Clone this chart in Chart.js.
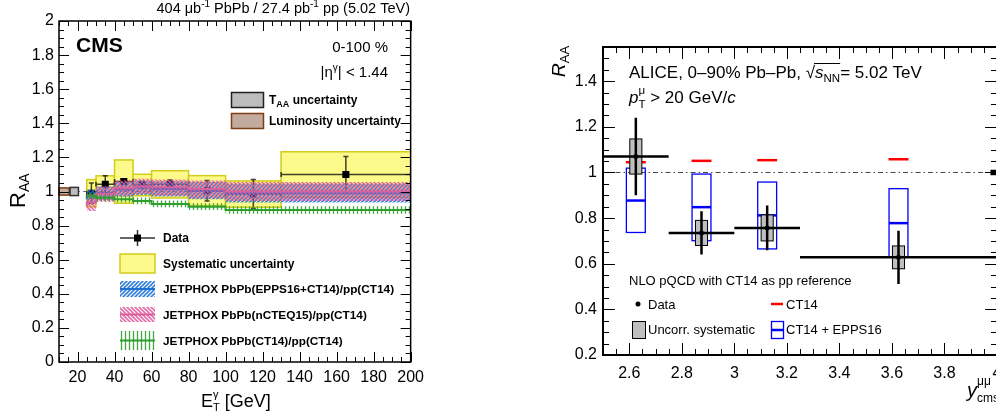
<!DOCTYPE html>
<html>
<head>
<meta charset="utf-8">
<script src="https://cdn.jsdelivr.net/npm/chart.js@4.4.0/dist/chart.umd.min.js"></script>
<style>
  html, body { margin: 0; padding: 0; background: #fff; overflow: hidden; width: 996px; height: 419px; }
  #cms { position: absolute; left: 0; top: 0; }
  #alice { position: absolute; left: 520px; top: 0; }
</style>
</head>
<body>
<canvas id="cms" width="430" height="419"></canvas>
<canvas id="alice" width="500" height="419"></canvas>
<script>
// ---- CMS: isolated photon R_AA vs E_T ----
var etEdges = [25, 30, 40, 50, 60, 80, 100, 130, 200];
var etCenters = [27.5, 35, 45, 55, 70, 90, 115, 165];
var raaCms = [0.99, 1.042, 1.058, 1.038, 1.042, 1.005, 0.985, 1.10];
var statCms = [0.06, 0.05, 0.015, 0.02, 0.025, 0.06, 0.085, 0.105];
var systCms = [0.08, 0.05, 0.127, 0.063, 0.08, 0.088, 0.077, 0.133];

var eppsMid = [0.955, 0.97, 0.99, 1.012, 1.024, 1.015, 1.005, 0.99];
var eppsLo = [0.915, 0.93, 0.95, 0.97, 0.98, 0.97, 0.955, 0.935];
var eppsHi = [0.995, 1.01, 1.03, 1.055, 1.065, 1.06, 1.055, 1.045];
var ncteqMid = [0.91, 0.935, 0.985, 1.02, 1.03, 1.025, 1.015, 1.0];
var ncteqLo = [0.835, 0.885, 0.94, 0.975, 0.985, 0.975, 0.96, 0.945];
var ncteqHi = [0.985, 0.985, 1.03, 1.065, 1.075, 1.07, 1.065, 1.055];
var ct14Mid = [0.97, 0.975, 0.963, 0.955, 0.945, 0.927, 0.911, 0.891];
var ct14Lo = [0.95, 0.955, 0.943, 0.935, 0.925, 0.907, 0.891, 0.869];
var ct14Hi = [0.99, 0.995, 0.983, 0.975, 0.965, 0.947, 0.931, 0.913];

var lumiRange = [10, 15.5];
var lumiUnc = 0.021;
var taaRange = [16, 20.5];
var taaUnc = 0.024;

var etTicks = [20, 40, 60, 80, 100, 120, 140, 160, 180, 200];
var raaTicksCms = [0, 0.2, 0.4, 0.6, 0.8, 1, 1.2, 1.4, 1.6, 1.8, 2];

// ---- ALICE: Z -> mu mu R_AA vs rapidity ----
var yEdges = [2.5, 2.75, 3.0, 3.25, 4.0];
var yCenters = [2.625, 2.875, 3.125, 3.625];
var raaAlice = [1.07, 0.735, 0.757, 0.628];
var statAlice = [0.17, 0.095, 0.098, 0.117];
var systAlice = [0.077, 0.055, 0.057, 0.05];
var ct14Alice = [1.045, 1.051, 1.054, 1.058];
var eppsAliceMid = [0.877, 0.848, 0.812, 0.778];
var eppsAliceHi = [1.019, 0.993, 0.958, 0.929];
var eppsAliceLo = [0.737, 0.701, 0.665, 0.63];
var globalUnc = 0.012;

var rapTicks = [2.6, 2.8, 3.0, 3.2, 3.4, 3.6, 3.8, 4.0];
var raaTicksAlice = [0.2, 0.4, 0.6, 0.8, 1, 1.2, 1.4];

var FONT = '"Liberation Sans", Arial, Helvetica, sans-serif';

function fontOf(p) {
  return (p.i ? 'italic ' : '') + (p.b ? 'bold ' : '') + p.s + 'px ' + FONT;
}
function partWidth(ctx, p) {
  if (p.stack) return Math.max.apply(null, p.stack.map(function (q) { return partWidth(ctx, q); }));
  ctx.font = fontOf(p);
  return ctx.measureText(p.t).width;
}
// draws a run of text pieces (with sub/superscripts) and returns the end x
function drawRich(ctx, x, y, parts, align) {
  var total = 0;
  parts.forEach(function (p) { total += partWidth(ctx, p); });
  if (align === 'right') x -= total;
  else if (align === 'center') x -= total / 2;
  ctx.textAlign = 'left';
  ctx.textBaseline = 'alphabetic';
  parts.forEach(function (p) {
    (p.stack || [p]).forEach(function (q) {
      ctx.font = fontOf(q);
      ctx.fillText(q.t, x, y + (q.dy || 0));
    });
    x += partWidth(ctx, p);
  });
  return x;
}

function clipArea(ctx, a) {
  ctx.beginPath();
  ctx.rect(a.left, a.top, a.right - a.left, a.bottom - a.top);
  ctx.clip();
}

// frame with inward ticks on all four sides
function drawFrame(chart, xMinorStep, yMinorStep, majLen, minLen, lw) {
  var ctx = chart.ctx, a = chart.chartArea, xs = chart.scales.x, ys = chart.scales.y;
  ctx.save();
  ctx.strokeStyle = '#000';
  ctx.lineWidth = lw;
  ctx.strokeRect(a.left, a.top, a.right - a.left, a.bottom - a.top);
  ctx.lineWidth = 1;
  ctx.beginPath();
  var first = Math.ceil(xs.min / xMinorStep - 1e-6);
  for (var k = first; k * xMinorStep <= xs.max + 1e-9; k++) {
    var v = k * xMinorStep;
    var isMaj = xs.ticks.some(function (t) { return Math.abs(t.value - v) < 1e-6; });
    var len = isMaj ? majLen : minLen;
    var px = Math.round(xs.getPixelForValue(v)) + 0.5;
    ctx.moveTo(px, a.bottom); ctx.lineTo(px, a.bottom - len);
    ctx.moveTo(px, a.top); ctx.lineTo(px, a.top + len);
  }
  first = Math.ceil(ys.min / yMinorStep - 1e-6);
  for (k = first; k * yMinorStep <= ys.max + 1e-9; k++) {
    v = k * yMinorStep;
    isMaj = ys.ticks.some(function (t) { return Math.abs(t.value - v) < 1e-6; });
    len = isMaj ? majLen : minLen;
    var py = Math.round(ys.getPixelForValue(v)) + 0.5;
    ctx.moveTo(a.left, py); ctx.lineTo(a.left + len, py);
    ctx.moveTo(a.right, py); ctx.lineTo(a.right - len, py);
  }
  ctx.stroke();
  ctx.restore();
}

function makeHatch(ctx, color, kind) {
  var tile = document.createElement('canvas');
  tile.width = 4; tile.height = 4;
  var g = tile.getContext('2d');
  g.strokeStyle = color;
  g.lineWidth = 1.6;
  g.beginPath();
  if (kind === 'up') {
    g.moveTo(-1, 5); g.lineTo(5, -1);
    g.moveTo(-1, 1); g.lineTo(1, -1);
    g.moveTo(3, 5); g.lineTo(5, 3);
  } else if (kind === 'down') {
    g.moveTo(-1, -1); g.lineTo(5, 5);
    g.moveTo(3, -1); g.lineTo(5, 1);
    g.moveTo(-1, 3); g.lineTo(1, 5);
  } else {
    g.lineWidth = 1.3;
    g.moveTo(1.5, 0); g.lineTo(1.5, 4);
  }
  g.stroke();
  return ctx.createPattern(tile, 'repeat');
}

var tickFont = { family: FONT, size: 16 };
var oneDigit = function (v) { return String(Math.round(v * 100) / 100); };

// ---------------- CMS panel ----------------
var cmsCanvas = document.getElementById('cms');
var cctx = cmsCanvas.getContext('2d');
var blueHatch = makeHatch(cctx, 'rgba(30,115,215,0.9)', 'up');
var pinkHatch = makeHatch(cctx, 'rgba(225,85,155,0.85)', 'down');
var greenHatch = makeHatch(cctx, 'rgba(45,160,45,0.9)', 'vert');
var BLUE = '#1f6fd0', PINK = '#d9619a', GREEN = '#2e9e2e';
var YELLOW = '#fdfa8c', YELLOW_EDGE = '#d2cc1a';

function stepPoints(vals) {
  return etEdges.map(function (e, i) { return { x: e, y: vals[Math.min(i, vals.length - 1)] }; });
}
function bandSets(lo, mid, hi, pattern, color, ord) {
  return [
    { type: 'line', data: stepPoints(hi), stepped: 'after', borderColor: 'rgba(0,0,0,0)', borderWidth: 0,
      pointRadius: 0, fill: '+1', backgroundColor: pattern, order: ord + 1 },
    { type: 'line', data: stepPoints(lo), stepped: 'after', borderColor: 'rgba(0,0,0,0)', borderWidth: 0,
      pointRadius: 0, fill: false, order: ord + 1 },
    { type: 'line', data: stepPoints(mid), stepped: 'after', borderColor: color, borderWidth: 2,
      pointRadius: 0, fill: false, order: ord }
  ];
}

var cmsDecor = {
  id: 'cmsDecor',
  beforeDatasetsDraw: function (chart) {
    var ctx = chart.ctx, xs = chart.scales.x, ys = chart.scales.y, a = chart.chartArea;
    ctx.save();
    clipArea(ctx, a);
    // systematic uncertainty boxes
    etCenters.forEach(function (c, i) {
      var x0 = xs.getPixelForValue(etEdges[i]), x1 = xs.getPixelForValue(etEdges[i + 1]);
      var y0 = ys.getPixelForValue(raaCms[i] + systCms[i]), y1 = ys.getPixelForValue(raaCms[i] - systCms[i]);
      ctx.fillStyle = YELLOW;
      ctx.fillRect(x0, y0, x1 - x0, y1 - y0);
      ctx.strokeStyle = YELLOW_EDGE;
      ctx.lineWidth = 1.5;
      ctx.strokeRect(x0, y0, x1 - x0, y1 - y0);
    });
    // unity
    var y1p = ys.getPixelForValue(1);
    ctx.setLineDash([3, 3]);
    ctx.strokeStyle = 'rgba(0,0,0,0.55)';
    ctx.lineWidth = 1;
    ctx.beginPath(); ctx.moveTo(a.left, y1p); ctx.lineTo(a.right, y1p); ctx.stroke();
    ctx.setLineDash([]);
    // statistical errors and bin widths
    ctx.strokeStyle = 'rgba(0,0,0,0.75)';
    ctx.lineWidth = 1.5;
    etCenters.forEach(function (c, i) {
      var px = xs.getPixelForValue(c), py = ys.getPixelForValue(raaCms[i]);
      var x0 = xs.getPixelForValue(etEdges[i]), x1 = xs.getPixelForValue(etEdges[i + 1]);
      var yt = ys.getPixelForValue(raaCms[i] + statCms[i]), yb = ys.getPixelForValue(raaCms[i] - statCms[i]);
      ctx.beginPath();
      ctx.moveTo(x0, py); ctx.lineTo(x1, py);
      ctx.moveTo(x0, py - 2.5); ctx.lineTo(x0, py + 2.5);
      ctx.moveTo(x1, py - 2.5); ctx.lineTo(x1, py + 2.5);
      ctx.moveTo(px, yt); ctx.lineTo(px, yb);
      ctx.moveTo(px - 2.5, yt); ctx.lineTo(px + 2.5, yt);
      ctx.moveTo(px - 2.5, yb); ctx.lineTo(px + 2.5, yb);
      ctx.stroke();
    });
    ctx.restore();
  },
  afterDatasetsDraw: function (chart) {
    var ctx = chart.ctx, xs = chart.scales.x, ys = chart.scales.y;
    ctx.save();
    // normalisation boxes at unity
    function normBox(range, unc, fill, edge) {
      var x0 = xs.getPixelForValue(range[0]), x1 = xs.getPixelForValue(range[1]);
      var y0 = ys.getPixelForValue(1 + unc), y1 = ys.getPixelForValue(1 - unc);
      ctx.fillStyle = fill; ctx.fillRect(x0, y0, x1 - x0, y1 - y0);
      ctx.strokeStyle = edge; ctx.lineWidth = 1.5; ctx.strokeRect(x0, y0, x1 - x0, y1 - y0);
    }
    normBox(lumiRange, lumiUnc, '#c4aba0', '#7b3f12');
    normBox(taaRange, taaUnc, '#bdbdbd', '#333');
    ctx.restore();

    drawFrame(chart, 5, 0.05, 10, 5, 1.5);

    ctx.save();
    ctx.fillStyle = '#000';
    // header and labels
    drawRich(ctx, 410, 13, [
      { t: '404 \u03bcb', s: 14.5 }, { t: '-1', s: 10, dy: -6 }, { t: ' PbPb / 27.4 pb', s: 14.5 },
      { t: '-1', s: 10, dy: -6 }, { t: ' pp (5.02 TeV)', s: 14.5 }
    ], 'right');
    drawRich(ctx, 76, 52, [{ t: 'CMS', s: 21, b: true }]);
    drawRich(ctx, 388, 52, [{ t: '0-100 %', s: 15 }], 'right');
    drawRich(ctx, 388, 77, [
      { t: '|\u03b7', s: 15 }, { t: '\u03b3', s: 10, dy: -6 }, { t: '| < 1.44', s: 15 }
    ], 'right');

    // axis titles
    drawRich(ctx, 201, 407, [
      { t: 'E', s: 18 },
      { stack: [{ t: '\u03b3', s: 11, dy: -9 }, { t: 'T', s: 11, dy: 4 }] },
      { t: ' [GeV]', s: 18 }
    ]);
    ctx.save();
    ctx.translate(25, 208);
    ctx.rotate(-Math.PI / 2);
    drawRich(ctx, 0, 0, [{ t: 'R', s: 22 }, { t: 'AA', s: 14, dy: 4 }]);
    ctx.restore();

    // upper legend
    function legBox(x, y, w, h, fill, edge) {
      ctx.fillStyle = fill; ctx.fillRect(x, y, w, h);
      ctx.strokeStyle = edge; ctx.lineWidth = 1.5; ctx.strokeRect(x, y, w, h);
    }
    legBox(231.5, 92.5, 32, 15, '#bdbdbd', '#222');
    legBox(231.5, 113.5, 32, 15, '#c4aba0', '#7b3f12');
    ctx.fillStyle = '#000';
    drawRich(ctx, 269, 104, [{ t: 'T', s: 12, b: true }, { t: 'AA', s: 9, b: true, dy: 3 }, { t: ' uncertainty', s: 12, b: true }]);
    drawRich(ctx, 269, 125, [{ t: 'Luminosity uncertainty', s: 12, b: true }]);

    // lower legend
    var lx0 = 120, lx1 = 155, lxm = 137.5;
    ctx.strokeStyle = 'rgba(0,0,0,0.8)';
    ctx.lineWidth = 1.5;
    ctx.beginPath();
    ctx.moveTo(lx0, 238); ctx.lineTo(lx1, 238);
    ctx.moveTo(lxm, 230); ctx.lineTo(lxm, 246);
    ctx.stroke();
    ctx.fillStyle = '#000';
    ctx.fillRect(lxm - 3.5, 234.5, 7, 7);
    legBox(lx0, 254, 35, 19, YELLOW, YELLOW_EDGE);
    [[281, 297, blueHatch, BLUE], [307, 322, pinkHatch, PINK], [331, 350, greenHatch, GREEN]].forEach(function (r) {
      ctx.fillStyle = r[2];
      ctx.fillRect(lx0, r[0], lx1 - lx0, r[1] - r[0]);
      ctx.strokeStyle = r[3];
      ctx.lineWidth = 2;
      ctx.beginPath();
      ctx.moveTo(lx0, (r[0] + r[1]) / 2); ctx.lineTo(lx1, (r[0] + r[1]) / 2);
      ctx.stroke();
    });
    ctx.fillStyle = '#000';
    drawRich(ctx, 163, 242, [{ t: 'Data', s: 12, b: true }]);
    drawRich(ctx, 163, 268, [{ t: 'Systematic uncertainty', s: 12, b: true }]);
    drawRich(ctx, 163, 293, [{ t: 'JETPHOX PbPb(EPPS16+CT14)/pp(CT14)', s: 11.8, b: true }]);
    drawRich(ctx, 163, 319, [{ t: 'JETPHOX PbPb(nCTEQ15)/pp(CT14)', s: 11.8, b: true }]);
    drawRich(ctx, 163, 345, [{ t: 'JETPHOX PbPb(CT14)/pp(CT14)', s: 11.8, b: true }]);
    ctx.restore();
  }
};

new Chart(cmsCanvas, {
  type: 'scatter',
  data: {
    datasets: [
      { type: 'scatter', data: etCenters.map(function (x, i) { return { x: x, y: raaCms[i] }; }),
        pointStyle: 'rect', pointRadius: 5, backgroundColor: '#000', borderColor: '#000', borderWidth: 0, order: 10 }
    ].concat(
      bandSets(eppsLo, eppsMid, eppsHi, blueHatch, BLUE, 4),
      bandSets(ncteqLo, ncteqMid, ncteqHi, pinkHatch, PINK, 2),
      bandSets(ct14Lo, ct14Mid, ct14Hi, greenHatch, GREEN, 0)
    )
  },
  options: {
    responsive: false,
    devicePixelRatio: 1,
    animation: false,
    events: [],
    layout: { padding: { left: 0, right: 18, top: 21, bottom: 0 } },
    plugins: { legend: { display: false }, tooltip: { enabled: false } },
    scales: {
      x: {
        type: 'linear', min: 10, max: 200,
        grid: { display: false, drawTicks: false }, border: { display: false },
        ticks: { font: tickFont, color: '#000', padding: 6, maxRotation: 0, callback: oneDigit },
        afterBuildTicks: function (s) { s.ticks = etTicks.map(function (v) { return { value: v }; }); },
        afterFit: function (s) { s.height = 57; }
      },
      y: {
        type: 'linear', min: 0, max: 2,
        grid: { display: false, drawTicks: false }, border: { display: false },
        ticks: { font: tickFont, color: '#000', padding: 5, callback: oneDigit },
        afterBuildTicks: function (s) { s.ticks = raaTicksCms.map(function (v) { return { value: v }; }); },
        afterFit: function (s) { s.width = 59; }
      }
    }
  },
  plugins: [cmsDecor]
});

// ---------------- ALICE panel ----------------
var aliceCanvas = document.getElementById('alice');
var GRAY_BOX_HALF = 0.023, CT14_HALF = 0.038, EPPS_HALF = 0.036;

var aliceDecor = {
  id: 'aliceDecor',
  beforeDatasetsDraw: function (chart) {
    var ctx = chart.ctx, xs = chart.scales.x, ys = chart.scales.y, a = chart.chartArea;
    ctx.save();
    clipArea(ctx, a);
    // unity
    var y1p = ys.getPixelForValue(1);
    ctx.strokeStyle = '#444';
    ctx.lineWidth = 1;
    ctx.setLineDash([5, 3, 1.5, 3]);
    ctx.beginPath(); ctx.moveTo(a.left, y1p); ctx.lineTo(a.right, y1p); ctx.stroke();
    ctx.setLineDash([]);
    yCenters.forEach(function (c, i) {
      // CT14 + EPPS16 band
      var x0 = xs.getPixelForValue(c - EPPS_HALF), x1 = xs.getPixelForValue(c + EPPS_HALF);
      var yt = ys.getPixelForValue(eppsAliceHi[i]), yb = ys.getPixelForValue(eppsAliceLo[i]);
      ctx.strokeStyle = '#0000ff';
      ctx.lineWidth = 1.3;
      ctx.strokeRect(x0, yt, x1 - x0, yb - yt);
      ctx.lineWidth = 2.5;
      var ym = ys.getPixelForValue(eppsAliceMid[i]);
      ctx.beginPath(); ctx.moveTo(x0, ym); ctx.lineTo(x1, ym); ctx.stroke();
      // CT14
      ctx.strokeStyle = '#ff0000';
      var yc = ys.getPixelForValue(ct14Alice[i]);
      ctx.beginPath();
      ctx.moveTo(xs.getPixelForValue(c - CT14_HALF), yc); ctx.lineTo(xs.getPixelForValue(c + CT14_HALF), yc);
      ctx.stroke();
    });
    // uncorrelated systematics
    yCenters.forEach(function (c, i) {
      var x0 = xs.getPixelForValue(c - GRAY_BOX_HALF), x1 = xs.getPixelForValue(c + GRAY_BOX_HALF);
      var yt = ys.getPixelForValue(raaAlice[i] + systAlice[i]), yb = ys.getPixelForValue(raaAlice[i] - systAlice[i]);
      ctx.fillStyle = '#bfbfbf';
      ctx.fillRect(x0, yt, x1 - x0, yb - yt);
      ctx.strokeStyle = '#000';
      ctx.lineWidth = 1;
      ctx.strokeRect(x0, yt, x1 - x0, yb - yt);
    });
    // statistical errors and bin widths
    ctx.strokeStyle = '#000';
    ctx.lineWidth = 2.5;
    yCenters.forEach(function (c, i) {
      var px = xs.getPixelForValue(c), py = ys.getPixelForValue(raaAlice[i]);
      ctx.beginPath();
      ctx.moveTo(xs.getPixelForValue(yEdges[i]), py); ctx.lineTo(xs.getPixelForValue(yEdges[i + 1]), py);
      ctx.moveTo(px, ys.getPixelForValue(raaAlice[i] + statAlice[i]));
      ctx.lineTo(px, ys.getPixelForValue(raaAlice[i] - statAlice[i]));
      ctx.stroke();
    });
    ctx.restore();
  },
  afterDatasetsDraw: function (chart) {
    var ctx = chart.ctx, xs = chart.scales.x, ys = chart.scales.y;
    // global normalisation uncertainty at the right edge
    ctx.save();
    ctx.fillStyle = '#000';
    var gx0 = xs.getPixelForValue(xs.max - 0.025), gx1 = xs.getPixelForValue(xs.max);
    var gy0 = ys.getPixelForValue(1 + globalUnc), gy1 = ys.getPixelForValue(1 - globalUnc);
    ctx.fillRect(gx0, gy0, gx1 - gx0, gy1 - gy0);
    ctx.restore();

    drawFrame(chart, 0.05, 0.05, 12, 6, 2);

    ctx.save();
    ctx.fillStyle = '#000';
    // header text
    var ex = drawRich(ctx, 109, 78, [{ t: 'ALICE, 0\u201390% Pb\u2013Pb, ', s: 17 }]);
    ctx.font = '17px ' + FONT;
    ctx.fillText('\u221a', ex, 78);
    var rx = ex + ctx.measureText('\u221a').width;
    var ex2 = drawRich(ctx, rx, 78, [{ t: 's', s: 17, i: true }, { t: 'NN', s: 11.5, dy: 4 }]);
    ctx.strokeStyle = '#000';
    ctx.lineWidth = 1;
    ctx.beginPath(); ctx.moveTo(rx - 1, 63.5); ctx.lineTo(ex2, 63.5); ctx.stroke();
    drawRich(ctx, ex2, 78, [{ t: '= 5.02 TeV', s: 17 }]);
    drawRich(ctx, 109, 103, [
      { t: 'p', s: 17, i: true },
      { stack: [{ t: '\u03bc', s: 11.5, dy: -9 }, { t: 'T', s: 11.5, dy: 5 }] },
      { t: ' > 20 GeV/', s: 17 }, { t: 'c', s: 17, i: true }
    ]);

    // legend
    drawRich(ctx, 109, 285, [{ t: 'NLO pQCD with CT14 as pp reference', s: 13 }]);
    ctx.beginPath(); ctx.arc(118, 304, 2.5, 0, Math.PI * 2); ctx.fill();
    drawRich(ctx, 128, 309, [{ t: 'Data', s: 13 }]);
    ctx.fillStyle = '#bfbfbf';
    ctx.fillRect(112.5, 321.5, 13, 17);
    ctx.strokeStyle = '#000'; ctx.lineWidth = 1;
    ctx.strokeRect(112.5, 321.5, 13, 17);
    ctx.fillStyle = '#000';
    drawRich(ctx, 128, 334, [{ t: 'Uncorr. systematic', s: 13 }]);
    ctx.strokeStyle = '#ff0000'; ctx.lineWidth = 2.5;
    ctx.beginPath(); ctx.moveTo(251, 304); ctx.lineTo(263, 304); ctx.stroke();
    drawRich(ctx, 266, 309, [{ t: 'CT14', s: 13 }]);
    ctx.strokeStyle = '#0000ff'; ctx.lineWidth = 1.3;
    ctx.strokeRect(251.5, 321.5, 12, 17);
    ctx.lineWidth = 2.5;
    ctx.beginPath(); ctx.moveTo(251.5, 330); ctx.lineTo(263.5, 330); ctx.stroke();
    drawRich(ctx, 266, 334, [{ t: 'CT14 + EPPS16', s: 13 }]);

    // axis titles
    drawRich(ctx, 447, 397, [
      { t: 'y', s: 20, i: true },
      { stack: [{ t: '\u03bc\u03bc', s: 12, dy: -12 }, { t: 'cms', s: 12, dy: 5 }] }
    ]);
    ctx.save();
    ctx.translate(45, 77);
    ctx.rotate(-Math.PI / 2);
    drawRich(ctx, 0, 0, [{ t: 'R', s: 19, i: true }, { t: 'AA', s: 13, dy: 4 }]);
    ctx.restore();
    ctx.restore();
  }
};

new Chart(aliceCanvas, {
  type: 'scatter',
  data: {
    datasets: [{
      data: yCenters.map(function (x, i) { return { x: x, y: raaAlice[i] }; }),
      pointStyle: 'circle', pointRadius: 2.5, backgroundColor: '#000', borderColor: '#000', borderWidth: 0
    }]
  },
  options: {
    responsive: false,
    devicePixelRatio: 1,
    animation: false,
    events: [],
    layout: { padding: { left: 0, right: 23, top: 47, bottom: 0 } },
    plugins: { legend: { display: false }, tooltip: { enabled: false } },
    scales: {
      x: {
        type: 'linear', min: 2.5, max: 4.0,
        grid: { display: false, drawTicks: false }, border: { display: false },
        ticks: { font: tickFont, color: '#000', padding: 9, maxRotation: 0, callback: oneDigit },
        afterBuildTicks: function (s) { s.ticks = rapTicks.map(function (v) { return { value: v }; }); },
        afterFit: function (s) { s.height = 64; }
      },
      y: {
        type: 'linear', min: 0.2, max: 1.55,
        grid: { display: false, drawTicks: false }, border: { display: false },
        ticks: { font: tickFont, color: '#000', padding: 6, callback: oneDigit },
        afterBuildTicks: function (s) { s.ticks = raaTicksAlice.map(function (v) { return { value: v }; }); },
        afterFit: function (s) { s.width = 83; }
      }
    }
  },
  plugins: [aliceDecor]
});
</script>
</body>
</html>
